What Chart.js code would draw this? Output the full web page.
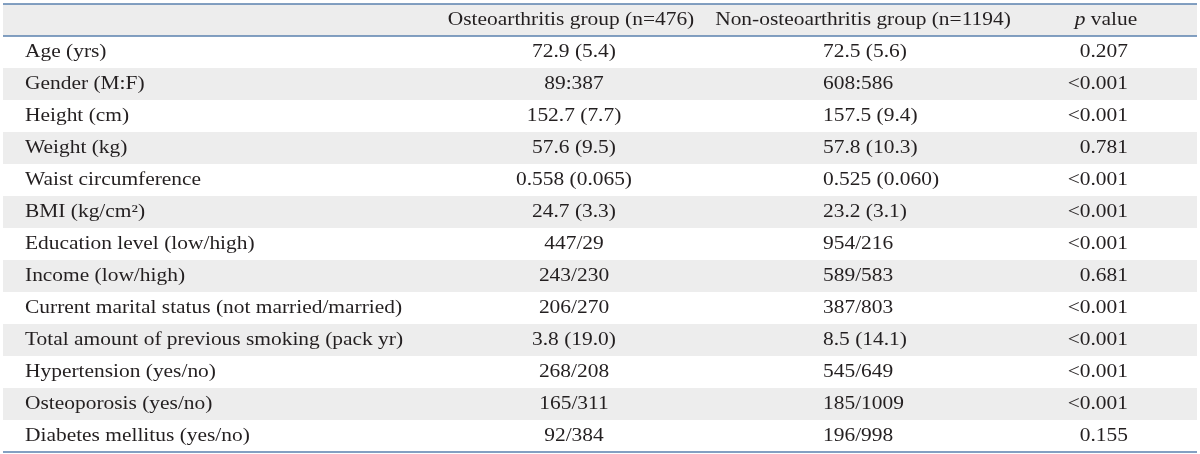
<!DOCTYPE html>
<html>
<head>
<meta charset="utf-8">
<script src="https://cdn.jsdelivr.net/npm/chart.js@4/dist/chart.umd.min.js"></script>
<style>
  html, body { margin: 0; padding: 0; background: #ffffff; }
  #wrap { width: 1200px; height: 454px; }
</style>
</head>
<body>
<div id="wrap"><canvas id="c" width="1200" height="454"></canvas></div>
<script>
// ---- Data ----
const headerTexts = ['', 'Osteoarthritis group (n=476)', 'Non-osteoarthritis group (n=1194)', 'p value'];
const rowLabels = [
  'Age (yrs)',
  'Gender (M:F)',
  'Height (cm)',
  'Weight (kg)',
  'Waist circumference',
  'BMI (kg/cm\u00B2)',
  'Education level (low/high)',
  'Income (low/high)',
  'Current marital status (not married/married)',
  'Total amount of previous smoking (pack yr)',
  'Hypertension (yes/no)',
  'Osteoporosis (yes/no)',
  'Diabetes mellitus (yes/no)'
];
const osteoValues = ['72.9 (5.4)', '89:387', '152.7 (7.7)', '57.6 (9.5)', '0.558 (0.065)', '24.7 (3.3)', '447/29', '243/230', '206/270', '3.8 (19.0)', '268/208', '165/311', '92/384'];
const nonOsteoValues = ['72.5 (5.6)', '608:586', '157.5 (9.4)', '57.8 (10.3)', '0.525 (0.060)', '23.2 (3.1)', '954/216', '589/583', '387/803', '8.5 (14.1)', '545/649', '185/1009', '196/998'];
const pValues = ['0.207', '<0.001', '<0.001', '0.781', '<0.001', '<0.001', '<0.001', '0.681', '<0.001', '<0.001', '<0.001', '<0.001', '0.155'];

// ---- Layout / style ----
const HEADER_KEY = '__header__';
const allRows = [HEADER_KEY].concat(rowLabels);
const headerX = [25, 571, 863, 1106];
const colX = { label: 25, osteo: 574, nonOsteo: 823, p: 1128 };
const FONT_FAMILY = '"Liberation Serif", "Times New Roman", serif';
const FONT_SIZE = 18;
const H_SCALE = 1.19;
const TEXT_COLOR = '#231f20';
const BAND_COLOR = '#ededed';
const RULE_COLOR = '#5a80ae';

function colDataset(texts, x, align) {
  return {
    texts: texts,
    align: align,
    data: texts.map((t, i) => ({ x: x, y: rowLabels[i] })),
    pointRadius: 0,
    pointHoverRadius: 0,
    showLine: false
  };
}

const headerDataset = {
  texts: headerTexts,
  align: 'center',
  data: headerTexts.map((t, i) => ({ x: headerX[i], y: HEADER_KEY })),
  pointRadius: 0, pointHoverRadius: 0, showLine: false
};

function drawRich(ctx, segments, x, y, align) {
  ctx.save();
  ctx.translate(x, y);
  ctx.scale(H_SCALE, 1);
  let total = 0;
  segments.forEach(s => { ctx.font = s.font; s.w = ctx.measureText(s.t).width; total += s.w; });
  let start = 0;
  if (align === 'center') start = -total / 2;
  else if (align === 'right') start = -total;
  ctx.textAlign = 'left';
  ctx.textBaseline = 'alphabetic';
  ctx.fillStyle = TEXT_COLOR;
  segments.forEach(s => { ctx.font = s.font; ctx.fillText(s.t, start, 0); start += s.w; });
  ctx.restore();
}

function segmentsFor(text) {
  const reg = FONT_SIZE + 'px ' + FONT_FAMILY;
  const ita = 'italic ' + FONT_SIZE + 'px ' + FONT_FAMILY;
  if (text === 'p value') return [{ t: 'p', font: ita }, { t: ' value', font: reg }];
  return [{ t: text, font: reg }];
}

const tablePlugin = {
  id: 'tablePlugin',
  beforeDraw(chart) {
    const ctx = chart.ctx;
    ctx.save();
    ctx.fillStyle = '#ffffff';
    ctx.fillRect(0, 0, chart.width, chart.height);
    const y = chart.scales.y;
    const area = chart.chartArea;
    const bandH = y.getPixelForValue(1) - y.getPixelForValue(0);
    ctx.fillStyle = BAND_COLOR;
    allRows.forEach((r, i) => {
      if (i % 2 === 0) {
        const c = y.getPixelForValue(i);
        ctx.fillRect(area.left, c - bandH / 2, area.right - area.left, bandH);
      }
    });
    ctx.restore();
  },
  afterDatasetsDraw(chart) {
    const ctx = chart.ctx;
    chart.data.datasets.forEach((ds, di) => {
      const meta = chart.getDatasetMeta(di);
      meta.data.forEach((el, j) => {
        const t = ds.texts[j];
        if (!t) return;
        drawRich(ctx, segmentsFor(t), el.x, el.y + 5, ds.align);
      });
    });
    const y = chart.scales.y;
    const area = chart.chartArea;
    const bandH = y.getPixelForValue(1) - y.getPixelForValue(0);
    const lines = [area.top, y.getPixelForValue(0) + bandH / 2, area.bottom];
    ctx.save();
    ctx.strokeStyle = RULE_COLOR;
    ctx.lineWidth = 1.4;
    lines.forEach(ly => {
      ctx.beginPath();
      ctx.moveTo(area.left, ly);
      ctx.lineTo(area.right, ly);
      ctx.stroke();
    });
    ctx.restore();
  }
};

new Chart(document.getElementById('c'), {
  type: 'scatter',
  data: {
    datasets: [
      headerDataset,
      colDataset(rowLabels, colX.label, 'left'),
      colDataset(osteoValues, colX.osteo, 'center'),
      colDataset(nonOsteoValues, colX.nonOsteo, 'left'),
      colDataset(pValues, colX.p, 'right')
    ]
  },
  options: {
    responsive: false,
    animation: false,
    events: [],
    layout: { padding: { top: 4, bottom: 2, left: 3, right: 3 } },
    plugins: { legend: { display: false }, tooltip: { enabled: false } },
    scales: {
      x: { type: 'linear', min: 3, max: 1197, display: false },
      y: { type: 'category', labels: allRows, offset: true, display: false }
    }
  },
  plugins: [tablePlugin]
});
</script>
</body>
</html>
